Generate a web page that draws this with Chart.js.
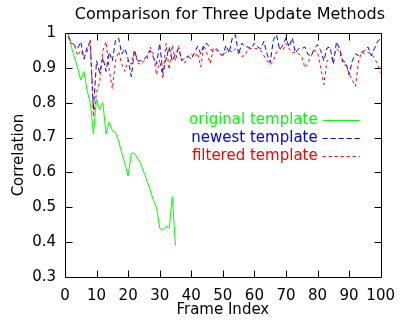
<!DOCTYPE html>
<html><head><meta charset="utf-8">
<script src="https://cdn.jsdelivr.net/npm/chart.js@4.4.0/dist/chart.umd.min.js"></script>
<style>html,body{margin:0;padding:0;background:#fff;} canvas{display:block;}</style>
</head><body>
<canvas id="c" width="405" height="328"></canvas>
<script>
const chartTitle = 'Comparison for Three Update Methods';
const seriesLabels = ['original template', 'newest template', 'filtered template'];

const originalTemplate = [
  1.0, 0.96, 0.93, 0.90, 0.865, 0.89, 0.835, 0.80, 0.71, 0.81,
  0.78, 0.80, 0.71, 0.745, 0.72, 0.715, 0.69, 0.655, 0.625, 0.59,
  0.655, 0.655, 0.64, 0.625, 0.60, 0.575, 0.55, 0.52, 0.50, 0.44,
  0.435, 0.445, 0.44, 0.53, 0.39
];

const newestTemplate = [
  0.99, 0.975, 0.965, 0.955, 0.975, 0.925, 0.96, 0.975, 0.78, 0.92,
  0.885, 0.93, 0.89, 0.945, 0.92, 0.98, 0.985, 0.94, 0.955, 0.925,
  0.875, 0.95, 0.92, 0.92, 0.925, 0.935, 0.95, 0.93, 0.91, 0.97,
  0.885, 0.925, 0.96, 0.92, 0.94, 0.957, 0.92, 0.93, 0.933, 0.925,
  0.943, 0.962, 0.94, 0.967, 0.97, 0.955, 0.945, 0.955, 0.945, 0.935,
  0.965, 0.943, 0.986, 0.995, 0.938, 0.971, 0.96, 0.96, 0.955, 0.971,
  0.96, 0.955, 0.976, 0.94, 0.915, 0.98, 0.995, 0.952, 0.965, 0.986,
  0.96, 0.986, 0.943, 0.955, 0.955, 0.96, 0.938, 0.935, 0.955, 0.967,
  0.95, 0.92, 0.957, 0.96, 0.91, 0.975, 0.955, 0.92, 0.915, 0.88,
  0.92, 0.94, 0.935, 0.945, 0.95, 0.96, 0.935, 0.955, 0.975, 0.985
];

const filteredTemplate = [
  0.99, 0.97, 0.965, 0.935, 0.95, 0.93, 0.945, 0.98, 0.76, 0.83,
  0.86, 0.95, 0.975, 0.895, 0.84, 0.92, 0.947, 0.91, 0.89, 0.923,
  0.91, 0.952, 0.914, 0.91, 0.92, 0.925, 0.96, 0.94, 0.88, 0.923,
  0.87, 0.97, 0.895, 0.965, 0.92, 0.962, 0.92, 0.915, 0.935, 0.94,
  0.93, 0.943, 0.903, 0.965, 0.94, 0.913, 0.957, 0.95, 0.94, 0.935,
  0.945, 0.95, 0.945, 0.955, 0.95, 0.933, 0.935, 0.955, 0.955, 0.955,
  0.955, 0.95, 0.935, 0.92, 0.909, 0.92, 0.945, 0.957, 0.95, 0.97,
  0.955, 0.943, 0.945, 0.94, 0.933, 0.90, 0.915, 0.935, 0.95, 0.945,
  0.90, 0.852, 0.92, 0.925, 0.93, 0.955, 0.945, 0.915, 0.905, 0.885,
  0.865, 0.847, 0.92, 0.945, 0.94, 0.945, 0.94, 0.93, 0.91, 0.885
];

const xTickValues = [0, 10, 20, 30, 40, 50, 60, 70, 80, 90, 100];
const yTickValues = [0.3, 0.4, 0.5, 0.6, 0.7, 0.8, 0.9, 1];
const yTickLabels = ['0.3', '0.4', '0.5', '0.6', '0.7', '0.8', '0.9', '1'];

function toPoints(vals) { return vals.map((v, i) => ({ x: i + 1, y: v })); }

const FONT = 'DejaVu Sans';

const framePlugin = {
  id: 'frame',
  afterDraw(chart) {
    const { ctx, chartArea: a, scales } = chart;
    const x = scales.x, y = scales.y;
    ctx.save();
    // title
    ctx.fillStyle = '#000';
    ctx.font = '16px "' + FONT + '"';
    ctx.textAlign = 'center';
    ctx.textBaseline = 'middle';
    ctx.fillText(chartTitle, (a.left + a.right) / 2 + 7, a.top - 18);

    ctx.strokeStyle = '#000';
    ctx.lineWidth = 1;
    ctx.setLineDash([]);
    const L = Math.round(a.left) + 0.5, R = Math.round(a.right) + 0.5;
    const T = Math.round(a.top) + 0.5, B = Math.round(a.bottom) + 0.5;
    ctx.beginPath();
    ctx.rect(L, T, R - L, B - T);
    const tl = 7;
    xTickValues.forEach(v => {
      if (v === x.min || v === x.max) return;
      const px = Math.round(x.getPixelForValue(v)) + 0.5;
      ctx.moveTo(px, B); ctx.lineTo(px, B - tl);
      ctx.moveTo(px, T); ctx.lineTo(px, T + tl);
    });
    yTickValues.forEach(v => {
      if (v === y.min || v === y.max) return;
      const py = Math.round(y.getPixelForValue(v)) + 0.5;
      ctx.moveTo(L, py); ctx.lineTo(L + tl, py);
      ctx.moveTo(R, py); ctx.lineTo(R - tl, py);
    });
    ctx.stroke();

    // legend (gnuplot style, inside plot)
    const ds = chart.data.datasets;
    ctx.font = '15px "' + FONT + '"';
    ctx.textAlign = 'right';
    ctx.textBaseline = 'middle';
    [0, 1, 2].forEach((di, k) => {
      const d = ds[di];
      const ry = Math.round(a.top + 87 + k * 18) + 0.5;
      ctx.fillStyle = d.borderColor;
      ctx.fillText(d.label, a.right - 63, ry);
      ctx.strokeStyle = d.borderColor;
      ctx.setLineDash(d.borderDash || []);
      ctx.beginPath();
      ctx.moveTo(a.right - 58, ry);
      ctx.lineTo(a.right - 21, ry);
      ctx.stroke();
    });
    ctx.restore();
  }
};

new Chart(document.getElementById('c'), {
  type: 'line',
  data: {
    datasets: [
      { label: seriesLabels[0], data: toPoints(originalTemplate), borderColor: '#00ff00', borderWidth: 1, pointRadius: 0, tension: 0, order: 2 },
      { label: seriesLabels[1], data: toPoints(newestTemplate), borderColor: '#0000ff', borderWidth: 1, pointRadius: 0, tension: 0, borderDash: [5, 3], order: 1 },
      { label: seriesLabels[2], data: toPoints(filteredTemplate), borderColor: '#ff0000', borderWidth: 1, pointRadius: 0, tension: 0, borderDash: [3, 3], order: 0 }
    ]
  },
  options: {
    responsive: false,
    animation: false,
    layout: { padding: { left: 0, right: 24, top: 33, bottom: 0 } },
    plugins: {
      legend: { display: false },
      tooltip: { enabled: false },
      title: { display: false }
    },
    scales: {
      x: {
        type: 'linear', min: 0, max: 100,
        afterBuildTicks: s => { s.ticks = xTickValues.map(v => ({ value: v })); },
        afterFit: s => { s.height = 51; },
        grid: { display: false, drawTicks: false },
        border: { display: false },
        ticks: { color: '#000', font: { family: FONT, size: 15 }, padding: 10, maxRotation: 0, autoSkip: false },
        title: { display: true, text: 'Frame Index', color: '#000', font: { family: FONT, size: 15 }, padding: { top: 0, bottom: 9 } }
      },
      y: {
        type: 'linear', min: 0.3, max: 1,
        afterBuildTicks: s => { s.ticks = yTickValues.map(v => ({ value: v })); },
        afterFit: s => { s.width = 65; },
        grid: { display: false, drawTicks: false },
        border: { display: false },
        ticks: {
          color: '#000', font: { family: FONT, size: 15 }, padding: 9, autoSkip: false,
          callback: function (value) { const i = yTickValues.indexOf(value); return i >= 0 ? yTickLabels[i] : ''; }
        },
        title: { display: true, text: 'Correlation', color: '#000', font: { family: FONT, size: 15 }, padding: { top: 10, bottom: 0 } }
      }
    }
  },
  plugins: [framePlugin]
});
</script>
</body></html>
